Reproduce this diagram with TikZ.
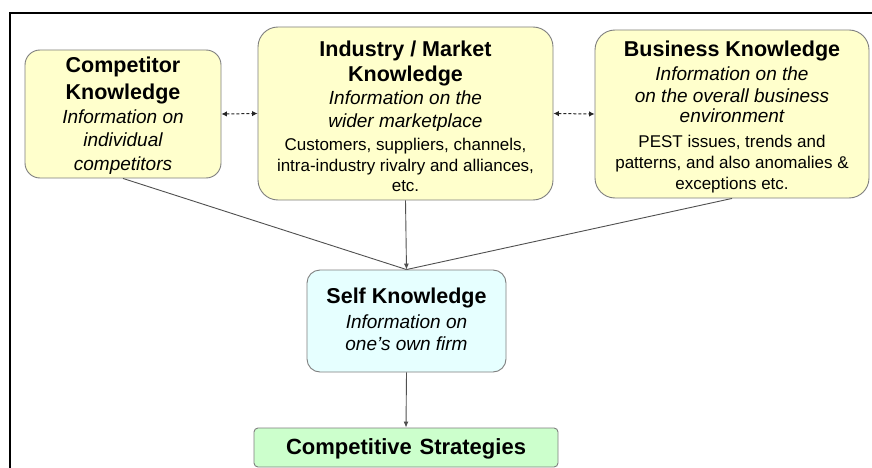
\documentclass[tikz,border=0pt]{standalone}
\usepackage{fontspec}
\setmainfont{Liberation Sans}
\usetikzlibrary{arrows.meta}
\definecolor{ylw}{HTML}{FFFFCC}
\definecolor{cyn}{HTML}{E6FFFF}
\definecolor{grn}{HTML}{CCFFCC}
\definecolor{edgegray}{HTML}{7F7F7F}
\definecolor{linegray}{HTML}{505050}
\newcommand\tB{\bfseries\fontsize{21.5}{25}\selectfont}
\newcommand\tI{\itshape\fontsize{19}{23}\selectfont}
\begin{document}
\begin{tikzpicture}[x=1pt,y=-1pt,
  kbox/.style={draw=edgegray, line width=0.9pt, inner sep=0pt},
  txt/.style={align=center, inner sep=0pt, anchor=north, text=black},
  conn/.style={draw=linegray, line width=0.9pt},
  arr/.style={conn, -{Latex[length=6pt,width=5pt]}},
  darr/.style={draw=black!85, line width=1pt, dash pattern=on 3pt off 2pt,
     {Latex[length=5.5pt,width=5.5pt]}-{Latex[length=5.5pt,width=5.5pt]}}]
\useasboundingbox (0,0) rectangle (872,468);
\fill[white] (0,0) rectangle (872,468);
\draw[line width=2pt, black] (10,468) -- (10,13) -- (872,13);

% boxes
\node[kbox, fill=ylw, rounded corners=15pt, minimum width=196pt, minimum height=128pt] (comp) at (123,114) {};
\node[kbox, fill=ylw, rounded corners=20pt, minimum width=295pt, minimum height=173pt] (ind) at (405.5,113.5) {};
\node[kbox, fill=ylw, rounded corners=20pt, minimum width=274pt, minimum height=168pt] (bus) at (732,114) {};
\node[kbox, fill=cyn, rounded corners=13pt, minimum width=199pt, minimum height=102pt] (self) at (406.5,321) {};
\node[kbox, fill=grn, rounded corners=4pt, minimum width=304pt, minimum height=39pt] (strat) at (406,447.5) {};

% texts
\node[txt, font=\fontsize{17}{23.5}\selectfont] (compT) at (123,57.2)
  {{\tB Competitor}\\[3.5pt]{\tB Knowledge}\\{\tI Information on}\\{\tI individual}\\{\tI competitors}};
\node[txt, font=\fontsize{17}{20.5}\selectfont] (indT) at (405.5,40.3)
  {{\tB Industry / Market}\\[4.5pt]{\tB Knowledge}\\[2.5pt]{\tI Information on the}\\[2.5pt]{\tI wider marketplace}\\[2.5pt]Customers, suppliers, channels,\\[0.5pt]intra-industry rivalry and alliances,\\etc.};
\node[txt, font=\fontsize{17}{20.5}\selectfont] (busT) at (732,40.5)
  {{\tB Business Knowledge}\\[4pt]{\tI Information on the}\\[1pt]{\tI on the overall business}\\{\tI environment}\\[4pt]PEST issues, trends and\\[1pt]patterns, and also anomalies \&\\exceptions etc.};
\node[txt, font=\fontsize{17}{22}\selectfont] (selfT) at (406.5,288.2)
  {{\tB Self Knowledge}\\[3pt]{\tI Information on}\\{\tI one’s own firm}};
\node[inner sep=0pt, anchor=base, font=\bfseries\fontsize{22}{26}\selectfont] (stratT) at (406,454)
  {Competitive\hspace{0.35em}Strategies};

% connectors
\coordinate (meet) at (self.north);
\draw[conn] (comp.south) -- (meet);
\draw[conn] (bus.south) -- (meet);
\draw[arr] (ind.south) -- (meet);
\draw[arr] (self.south) -- (strat.north);
\draw[darr] (comp.east) -- (ind.west);
\draw[darr] (ind.east) -- (bus.west);
\end{tikzpicture}
\end{document}
